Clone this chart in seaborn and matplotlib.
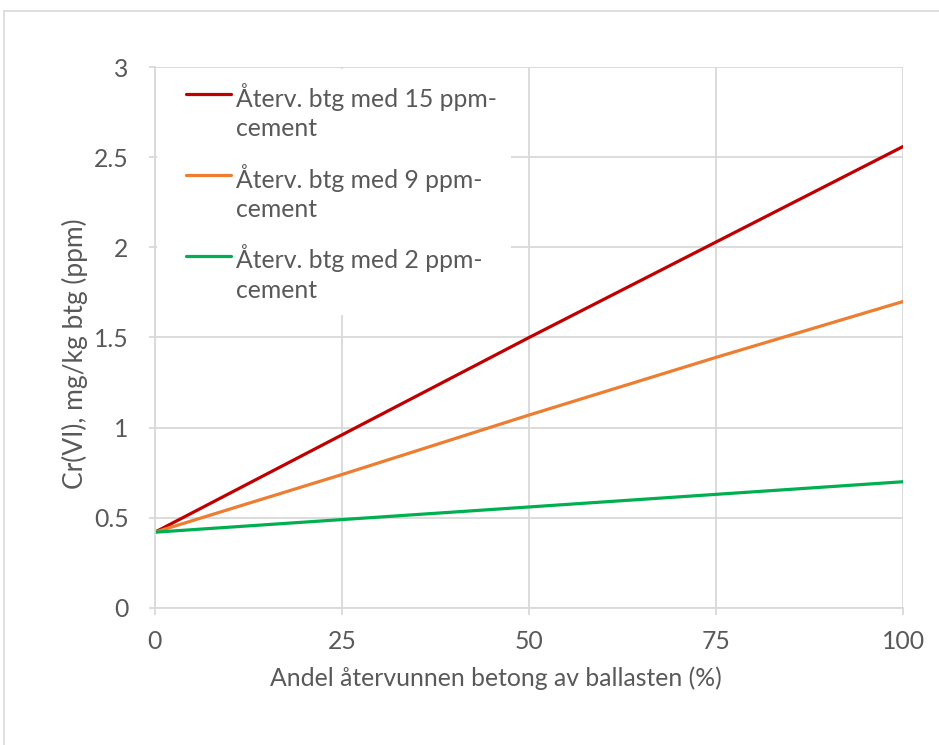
import seaborn as sns
import matplotlib.pyplot as plt
import pandas as pd
from matplotlib.lines import Line2D
from matplotlib.legend_handler import HandlerLine2D

# Andel återvunnen betong (%)
andel = [0, 25, 50, 75, 100]
cr_15 = [0.42, 0.96, 1.50, 2.03, 2.56]
cr_9 = [0.42, 0.74, 1.07, 1.39, 1.70]
cr_2 = [0.42, 0.49, 0.56, 0.63, 0.70]
labels = ["Återv. btg med 15 ppm-\ncement", "Återv. btg med 9 ppm-\ncement", "Återv. btg med 2 ppm-\ncement"]
colors = ["#C00000", "#ED7D31", "#00B050"]

rows = []
for lab, vals in zip(labels, [cr_15, cr_9, cr_2]):
    for x, y in zip(andel, vals):
        rows.append({"andel": x, "cr": y, "serie": lab})
df = pd.DataFrame(rows)


# legend line next to the first text line, like Excel does
class FirstLineHandler(HandlerLine2D):
    def create_artists(self, legend, orig_handle, xdescent, ydescent, width, height, fontsize, trans):
        arts = super().create_artists(legend, orig_handle, xdescent, ydescent, width, height, fontsize, trans)
        for a in arts:
            a.set_ydata([y + 0.72 * fontsize for y in a.get_ydata()])
        return arts


sns.set_style("white")
plt.rcParams["font.family"] = ["Lato", "DejaVu Sans"]
fs = 17.8
grey = "#595959"
grid = "#d9d9d9"

fig = plt.figure(figsize=(9.39, 7.45), dpi=100)
ax = fig.add_axes([0.165, 0.184, 0.797, 0.726])

sns.lineplot(data=df, x="andel", y="cr", hue="serie", palette=colors, linewidth=2.3, ax=ax)

ax.set_xlim(0, 100)
ax.set_ylim(0, 3)
ax.set_xticks([0, 25, 50, 75, 100])
ax.set_yticks([0, 0.5, 1, 1.5, 2, 2.5, 3])
ax.set_yticklabels(["0", "0.5", "1", "1.5", "2", "2.5", "3"])
ax.grid(True, color=grid, linewidth=1.3)
ax.set_axisbelow(True)
for s in ["top", "right"]:
    ax.spines[s].set_visible(False)
for s in ["left", "bottom"]:
    ax.spines[s].set_color(grid)
    ax.spines[s].set_linewidth(1.3)
ax.tick_params(axis="x", bottom=True, length=5, width=1.3, color=grid,
               labelsize=fs, labelcolor=grey, pad=11)
ax.tick_params(axis="y", left=True, length=4, width=1.3, color=grid,
               labelsize=fs, labelcolor=grey, pad=15)

ax.set_xlabel("Andel återvunnen betong av ballasten (%)", fontsize=fs, color=grey)
ax.set_ylabel("Cr(VI), mg/kg btg (ppm)", fontsize=19, color=grey)
ax.xaxis.set_label_coords(0.455, -0.108)
ax.yaxis.set_label_coords(-0.09, 0.47)

leg = ax.legend(loc="upper left", bbox_to_anchor=(0.003, 0.996), borderaxespad=0, fontsize=fs,
                frameon=True, framealpha=1, edgecolor="none", facecolor="white",
                handlelength=2.45, handletextpad=0.2, labelspacing=0.95, borderpad=0.55,
                handler_map={Line2D: FirstLineHandler(xpad=0.6)})
for t in leg.get_texts():
    t.set_color(grey)
    t.set_linespacing(1.33)

# outer chart border (top and left edges visible)
fig.add_artist(Line2D([4 / 939, 4 / 939], [0, 1 - 11 / 745], color=grid, linewidth=1.2))
fig.add_artist(Line2D([4 / 939, 1], [1 - 11 / 745, 1 - 11 / 745], color=grid, linewidth=1.2))

fig.savefig("out.png", dpi=100)
